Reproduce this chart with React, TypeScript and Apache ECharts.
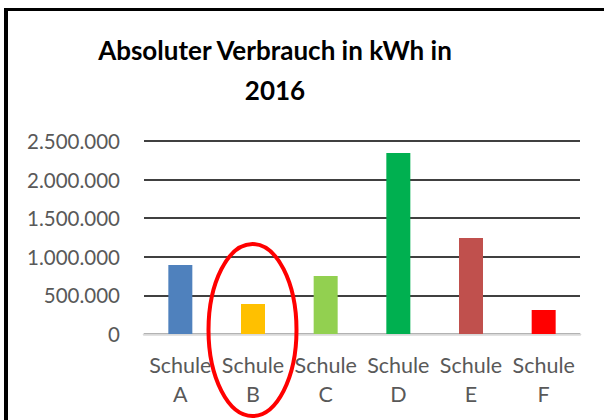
import React, { useEffect, useRef } from "react";
import * as echarts from "echarts";

const categories = ["Schule\nA", "Schule\nB", "Schule\nC", "Schule\nD", "Schule\nE", "Schule\nF"];
const values = [893000, 389000, 752000, 2343000, 1243000, 311000];
const barColors = ["#4F81BD", "#FFC000", "#92D050", "#00B050", "#C0504D", "#FF0000"];
const titleText = "Absoluter Verbrauch in kWh in\n2016";
const yMin = 0;
const yMax = 2500000;
const yStep = 500000;

const FONT = "Lato";

function fmt(v: number): string {
  return String(Math.round(v)).replace(/\B(?=(\d{3})+(?!\d))/g, ".");
}

export default function App() {
  const ref = useRef<HTMLDivElement>(null);
  useEffect(() => {
    if (!ref.current) return;
    const chart = echarts.init(ref.current, null, { renderer: "svg" });
    chart.setOption({
      animation: false,
      backgroundColor: "#ffffff",
      title: {
        text: titleText,
        left: 270,
        textAlign: "center",
        top: 25,
        textStyle: {
          fontFamily: FONT,
          fontWeight: "bold",
          fontSize: 26,
          lineHeight: 40,
          color: "#000000",
        },
      },
      grid: { left: 144, right: 24, top: 141, bottom: 86, containLabel: false },
      xAxis: {
        type: "category",
        data: categories,
        axisLine: { lineStyle: { color: "#D9D9D9", width: 2.5 } },
        axisTick: { show: false },
        axisLabel: {
          interval: 0,
          fontFamily: FONT,
          fontSize: 21.5,
          lineHeight: 29,
          color: "#595959",
          margin: 16,
        },
      },
      yAxis: {
        type: "value",
        min: yMin,
        max: yMax,
        interval: yStep,
        axisLine: { show: false },
        axisTick: { show: false },
        splitLine: { lineStyle: { color: "#000000", width: 1.6 } },
        axisLabel: {
          formatter: (v: number) => fmt(v),
          fontFamily: FONT,
          fontSize: 20.5,
          color: "#595959",
          margin: 24,
        },
      },
      series: [
        {
          type: "bar",
          barWidth: 24,
          data: values.map((v, i) => ({ value: v, itemStyle: { color: barColors[i] } })),
        },
      ],
      graphic: [
        {
          type: "line",
          shape: { x1: 6, y1: 8, x2: 6, y2: 420 },
          style: { stroke: "#000000", lineWidth: 4 },
          z: 100,
        },
        {
          type: "line",
          shape: { x1: 4, y1: 9.5, x2: 604, y2: 9.5 },
          style: { stroke: "#000000", lineWidth: 3 },
          z: 100,
        },
        {
          type: "ellipse",
          shape: { cx: 252.5, cy: 330, rx: 44, ry: 86 },
          style: { stroke: "#FF0000", lineWidth: 4, fill: "none" },
          z: 100,
        },
      ],
    });
    return () => chart.dispose();
  }, []);
  return (
    <div
      ref={ref}
      style={{ position: "fixed", left: 0, top: 0, width: 604, height: 420 }}
    />
  );
}
